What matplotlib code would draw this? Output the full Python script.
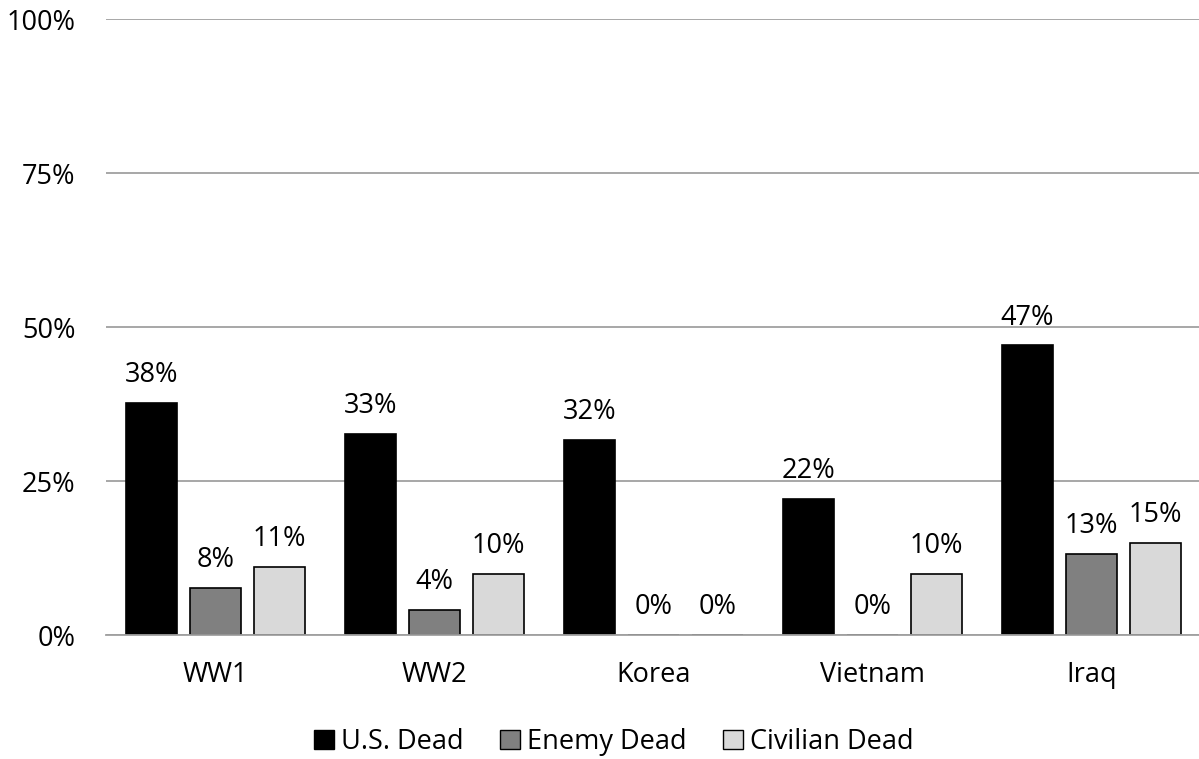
import numpy as np
import matplotlib
matplotlib.use("Agg")
import matplotlib.pyplot as plt
from matplotlib.patches import Patch

## data ##
wars = ["WW1", "WW2", "Korea", "Vietnam", "Iraq"]
us_dead = [37.6, 32.6, 31.6, 22.1, 47.0]
enemy_dead = [7.6, 4.1, 0.0, 0.0, 13.2]
civilian_dead = [11.1, 9.9, 0.0, 9.9, 14.9]
series_names = ["U.S. Dead", "Enemy Dead", "Civilian Dead"]
yticks = [0, 25, 50, 75, 100]

## style ##
colors = ["#000000", "#808080", "#d9d9d9"]
label_font = "Open Sans"
grid_col = "#a0a0a0"
fs = 19.5

fig = plt.figure(figsize=(11.99, 7.59), dpi=100)
# plot area runs off the right edge a little, like the original
ax = fig.add_axes([106/1199, 124/759, 1095/1199, (635-19)/759])

x = np.arange(len(wars))
width = 0.236
step = 0.292
all_series = [us_dead, enemy_dead, civilian_dead]
for i, vals in enumerate(all_series):
    pos = x + (i - 1) * step
    bars = ax.bar(pos, vals, width, color=colors[i], edgecolor="#000000",
                  linewidth=1.2, zorder=3)
    for b, v in zip(bars, vals):
        ax.text(b.get_x() + b.get_width()/2, v + 3.4, "%d%%" % round(v),
                ha="center", va="baseline", fontsize=fs, family=label_font)

ax.set_xlim(-0.5, len(wars) - 0.5)
ax.set_ylim(0, 100)
ax.set_yticks(yticks)
ax.set_yticklabels(["%d%%" % t for t in yticks], fontsize=fs, family=label_font)
ax.set_xticks(x)
ax.set_xticklabels(wars, fontsize=fs, family=label_font)
ax.tick_params(axis="both", length=0)
ax.tick_params(axis="y", pad=22)
ax.tick_params(axis="x", pad=19)
ax.yaxis.grid(True, color=grid_col, linewidth=1.3, zorder=0)
for s in ["left", "right", "top"]:
    ax.spines[s].set_visible(False)
ax.spines["bottom"].set_color(grid_col)
ax.spines["bottom"].set_linewidth(1.3)
ax.spines["bottom"].set_zorder(4)

handles = [Patch(facecolor=colors[i], edgecolor="#000000", linewidth=1.0,
                 label=series_names[i]) for i in range(3)]
fig.legend(handles=handles, loc="center", bbox_to_anchor=(0.512, 1 - 742/759),
           ncol=3, frameon=False, prop={"family": label_font, "size": fs},
           handlelength=0.72, handleheight=0.65, handletextpad=0.25,
           columnspacing=1.37, borderpad=0.0)

fig.savefig("out.png", dpi=100)
